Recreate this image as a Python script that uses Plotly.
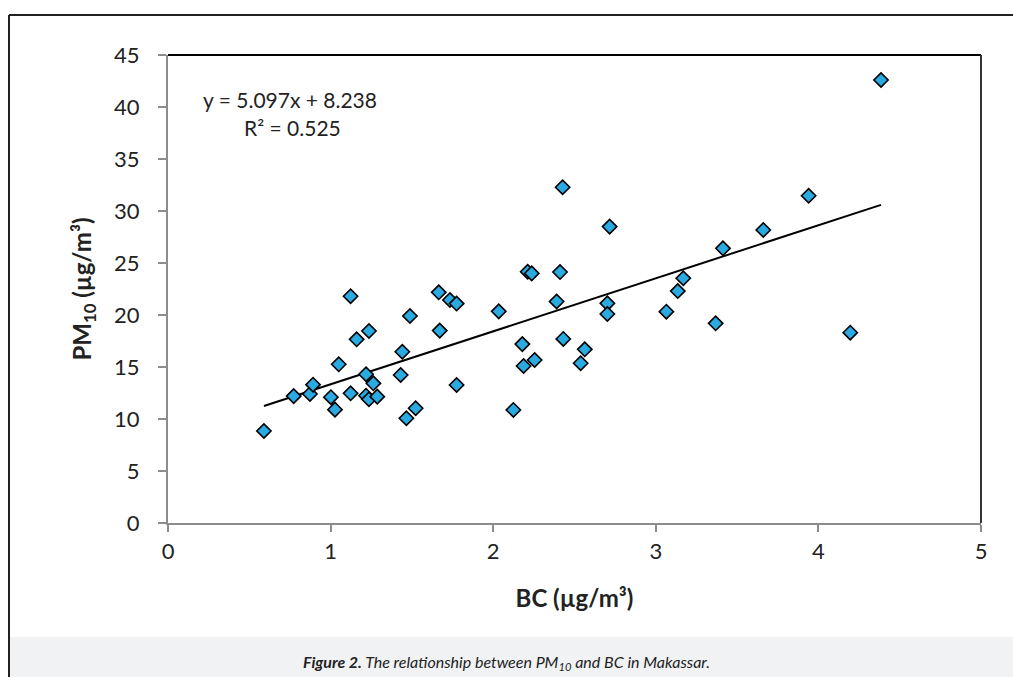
import plotly.graph_objects as go

# Data
bc = [0.59, 0.773, 0.873, 0.892, 1.002, 1.027, 1.05, 1.123, 1.123, 1.16,
      1.236, 1.218, 1.263, 1.218, 1.236, 1.287, 1.431, 1.441, 1.488, 1.466,
      1.523, 1.665, 1.671, 1.734, 1.775, 1.775, 2.034, 2.179, 2.124, 2.187,
      2.255, 2.212, 2.237, 2.411, 2.427, 2.39, 2.431, 2.563, 2.538, 2.716,
      2.702, 2.702, 3.065, 3.135, 3.169, 3.368, 3.413, 3.661, 3.94, 4.196,
      4.385]
pm10 = [8.85, 12.2, 12.4, 13.3, 12.1, 10.9, 15.26, 21.8, 12.47, 17.66,
        18.46, 14.3, 13.43, 12.24, 11.9, 12.15, 14.23, 16.47, 19.9, 10.07,
        11.03, 22.18, 18.5, 21.44, 21.1, 13.27, 20.35, 17.2, 10.87, 15.1,
        15.67, 24.16, 24.0, 24.13, 32.28, 21.3, 17.7, 16.7, 15.36, 28.5,
        21.12, 20.1, 20.32, 22.3, 23.53, 19.2, 26.41, 28.17, 31.47, 18.3,
        42.6]
slope = 5.097
intercept = 8.238
r2 = 0.525
x_ticks = [0, 1, 2, 3, 4, 5]
y_ticks = [0, 5, 10, 15, 20, 25, 30, 35, 40, 45]

FONT = "Lato, 'Open Sans', sans-serif"
CAP_FONT = "Lato, 'Open Sans', sans-serif"

x_fit = [min(bc), max(bc)]
y_fit = [slope * v + intercept for v in x_fit]

fig = go.Figure()
fig.add_trace(go.Scatter(
    x=x_fit, y=y_fit, mode="lines",
    line=dict(color="black", width=2), showlegend=False, hoverinfo="skip"))
fig.add_trace(go.Scatter(
    x=bc, y=pm10, mode="markers",
    marker=dict(symbol="diamond", size=11, color="#29abe2",
                line=dict(color="black", width=1.6)),
    showlegend=False))

W, H = 1013, 677
L, R, T, B = 168, 32, 55, 154
pw, ph = W - L - R, H - T - B

def px(x):
    return (x - L) / pw

def py(y):
    return (H - B - y) / ph

shapes = [
    # top and right border of plot area
    dict(type="line", xref="paper", yref="paper", x0=0, x1=1, y0=1, y1=1,
         line=dict(color="black", width=2)),
    dict(type="line", xref="paper", yref="paper", x0=1, x1=1, y0=0, y1=1,
         line=dict(color="#333333", width=2)),
    # caption band
    dict(type="rect", xref="paper", yref="paper", x0=px(10), x1=px(1013),
         y0=py(677), y1=py(637), fillcolor="#f1f2f4", line=dict(width=0),
         layer="below"),
    # outer frame
    dict(type="line", xref="paper", yref="paper", x0=px(9), x1=px(1013),
         y0=py(15), y1=py(15), line=dict(color="#222222", width=2)),
    dict(type="line", xref="paper", yref="paper", x0=px(9), x1=px(9),
         y0=py(15), y1=py(677), line=dict(color="#222222", width=2)),
]

annotations = [
    dict(text=f"y = {slope:.3f}x + {intercept:.3f}", xref="paper", yref="paper",
         x=px(290), y=py(99), xanchor="center", yanchor="middle", showarrow=False,
         font=dict(family=FONT, size=21, color="#222222")),
    dict(text=f"R² = {r2:.3f}", xref="paper", yref="paper",
         x=px(292), y=py(127), xanchor="center", yanchor="middle", showarrow=False,
         font=dict(family=FONT, size=21, color="#222222")),
    dict(text="<b><i>Figure 2.</i></b><i> The relationship between PM<sub>10</sub> and BC in Makassar.</i>",
         xref="paper", yref="paper", x=px(506), y=py(662), xanchor="center",
         yanchor="middle", showarrow=False,
         font=dict(family=CAP_FONT, size=16, color="#222222")),
]

fig.update_layout(
    width=W, height=H,
    margin=dict(l=L, r=R, t=T, b=B),
    paper_bgcolor="white", plot_bgcolor="white",
    font=dict(family=FONT, color="#222222"),
    shapes=shapes, annotations=annotations,
    xaxis=dict(range=[0, 5], tickvals=x_ticks, showgrid=False, zeroline=False,
               showline=True, linecolor="#8c8c8c", linewidth=2,
               ticks="outside", ticklen=7, tickcolor="#8c8c8c", tickwidth=1.5,
               tickfont=dict(size=22, family=FONT), ticklabelstandoff=1,
               title=dict(text="<b>BC (µg/m³)</b>", font=dict(size=24, family=FONT),
                          standoff=27)),
    yaxis=dict(range=[0, 45], tickvals=y_ticks, showgrid=False, zeroline=False,
               showline=True, linecolor="#8c8c8c", linewidth=2,
               ticks="outside", ticklen=8, tickcolor="#8c8c8c", tickwidth=1.5,
               tickfont=dict(size=22, family=FONT), ticklabelstandoff=14,
               title=dict(text="<b>PM<sub>10</sub> (µg/m³)</b>",
                          font=dict(size=24, family=FONT), standoff=16)),
)

fig.write_html(
    "out.html",
    config={"displayModeBar": False},
    post_script="document.body.style.margin='0px';document.body.style.overflow='hidden';",
)
